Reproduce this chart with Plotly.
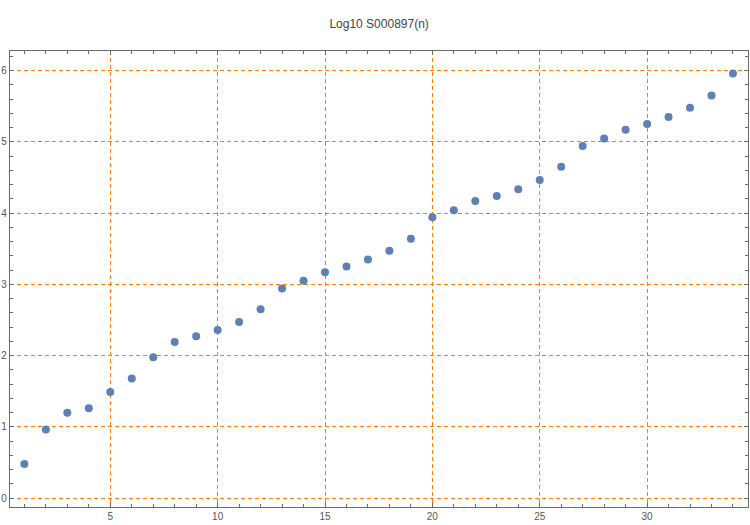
import plotly.graph_objects as go

n_values = list(range(1, 35))
log10_values = [
    0.477, 0.963, 1.196, 1.26, 1.49, 1.677, 1.977, 2.19, 2.27, 2.36,
    2.47, 2.65, 2.94, 3.05, 3.17, 3.25, 3.347, 3.47, 3.64, 3.94,
    4.04, 4.17, 4.24, 4.335, 4.465, 4.65, 4.94, 5.045, 5.17, 5.25,
    5.35, 5.48, 5.65, 5.96,
]
title_text = "Log10 S000897(n)"
x_tick_vals = [5, 10, 15, 20, 25, 30]
y_tick_vals = [0, 1, 2, 3, 4, 5, 6]

frame_color = "#6b6b6b"
grid_color = "#FF8000"
label_font = dict(family="Liberation Sans, Arial, sans-serif", size=10, color="#555555")

fig = go.Figure()
fig.add_trace(go.Scatter(
    x=n_values, y=log10_values, mode="markers",
    marker=dict(color="#5E81B5", size=8, line=dict(width=0)),
    showlegend=False, hoverinfo="x+y",
))

fig.update_layout(
    width=750, height=525,
    margin=dict(l=10, r=2, t=51, b=18, pad=0),
    paper_bgcolor="white", plot_bgcolor="white",
    title=dict(text=title_text, x=0.5055, xanchor="center", y=1 - 24 / 525, yanchor="middle",
               font=dict(family="Liberation Sans, Arial, sans-serif", size=12, color="#444444")),
)

fig.update_xaxes(
    range=[0.33, 34.70], tickmode="array", tickvals=x_tick_vals,
    ticks="inside", ticklen=4, tickwidth=1, tickcolor=frame_color,
    showline=True, linecolor=frame_color, linewidth=1.3, mirror="allticks",
    showgrid=True, gridcolor=grid_color, griddash="4px,3px", gridwidth=1,
    zeroline=False, tickfont=label_font, automargin=False,
    minor=dict(dtick=1, tick0=0, ticks="inside", ticklen=2.5, tickcolor=frame_color, showgrid=False),
)
fig.update_yaxes(
    range=[-0.126, 6.275], tickmode="array", tickvals=y_tick_vals,
    ticks="inside", ticklen=4, tickwidth=1, tickcolor=frame_color,
    showline=True, linecolor=frame_color, linewidth=1.3, mirror="allticks",
    showgrid=True, gridcolor=grid_color, griddash="4px,3px", gridwidth=1,
    zeroline=False, tickfont=label_font, automargin=False,
    minor=dict(dtick=0.2, tick0=0, ticks="inside", ticklen=2.5, tickcolor=frame_color, showgrid=False),
)

fig.write_html(
    "out.html",
    config={"displayModeBar": False},
    post_script="document.body.style.margin='0';document.body.style.padding='0';",
)
